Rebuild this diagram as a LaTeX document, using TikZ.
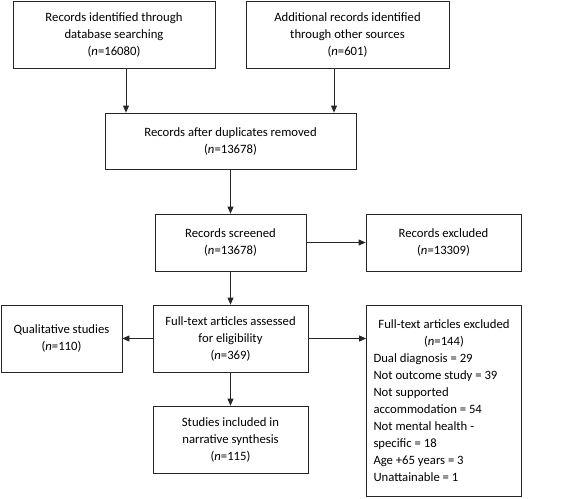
\documentclass[tikz,border=0pt]{standalone}
\usepackage{fontspec}
\setmainfont{Carlito}
\usetikzlibrary{arrows.meta}
\begin{document}
\begin{tikzpicture}[x=1pt,y=-1pt,
  box/.style={draw=black!85,line width=0.8pt,inner sep=0pt,align=center,
    font=\fontsize{12.7}{17}\selectfont},
  arr/.style={draw=black!85,line width=0.8pt,-{Triangle[length=7pt,width=6pt]}}]
\useasboundingbox (0,0) rectangle (567,498);
\node[box,minimum width=202,minimum height=67] (b1) at (114,34.5) {Records identified through\\database searching\\(\textit{n}=16080)};
\node[box,minimum width=203,minimum height=67] (b2) at (347.5,34.5) {Additional records identified\\through other sources\\(\textit{n}=601)};
\node[box,minimum width=251,minimum height=56] (b3) at (230.5,141) {Records after duplicates removed\\(\textit{n}=13678)};
\node[box,minimum width=151,minimum height=57] (b4) at (230.5,242.5) {Records screened\\(\textit{n}=13678)};
\node[box,minimum width=155,minimum height=57] (b5) at (443.5,242.5) {Records excluded\\(\textit{n}=13309)};
\node[box,minimum width=155,minimum height=67] (b6) at (230.5,338.5) {Full-text articles assessed\\for eligibility\\(\textit{n}=369)};
\node[box,minimum width=121,minimum height=67] (q) at (61.5,338.5) {Qualitative studies\\(\textit{n}=110)};
\node[box,minimum width=155,minimum height=191,text width=141,align=none] (r) at (444,400.5) {\parindent=0pt{\centering Full-text articles excluded\\(\textit{n}=144)\par}\raggedright Dual diagnosis = 29\\Not outcome study = 39\\Not supported\\accommodation = 54\\Not mental health -\\specific = 18\\Age +65 years = 3\\Unattainable = 1\par};
\node[box,minimum width=155,minimum height=67] (s) at (230.5,439.5) {Studies included in\\narrative synthesis\\(\textit{n}=115)};
\coordinate (x1) at (126,0);
\coordinate (x2) at (334,0);
\draw[arr] (x1 |- b1.south) -- (x1 |- b3.north);
\draw[arr] (x2 |- b2.south) -- (x2 |- b3.north);
\draw[arr] (b3) -- (b4);
\draw[arr] (b4) -- (b5);
\draw[arr] (b4) -- (b6);
\draw[arr] (b6) -- (q);
\draw[arr] (b6) -- (r.west |- b6);
\draw[arr] (b6) -- (s);
\end{tikzpicture}
\end{document}
